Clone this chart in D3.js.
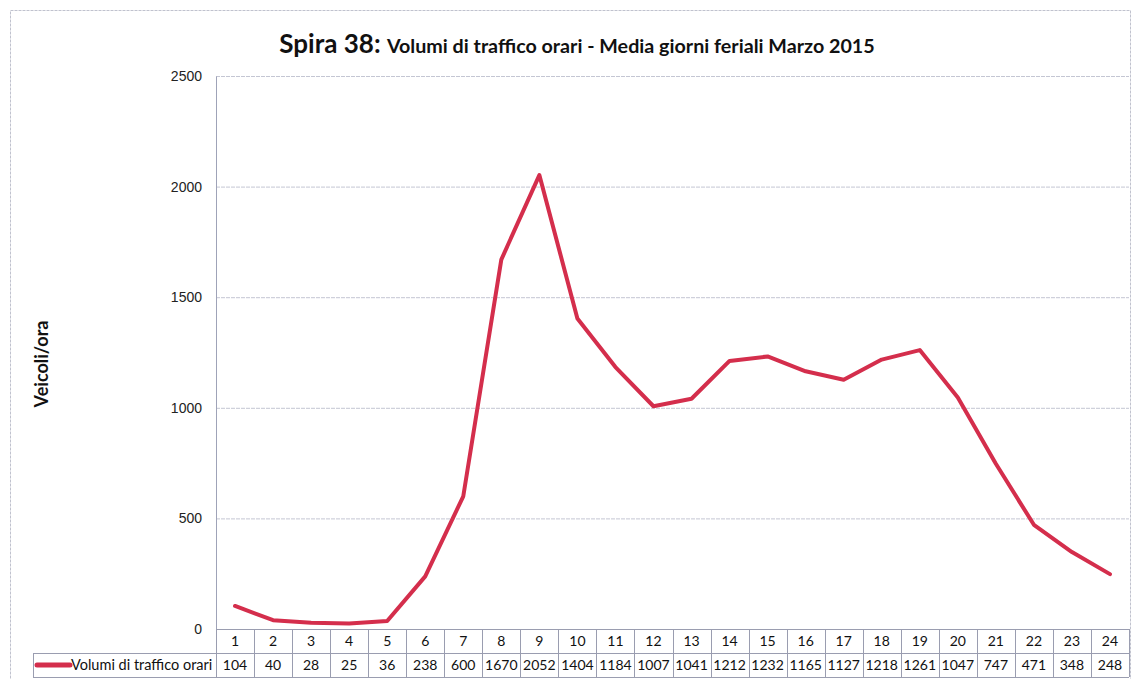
<!DOCTYPE html>
<html><head><meta charset="utf-8">
<script src="https://cdn.jsdelivr.net/npm/d3@7"></script>
<style>
html,body{margin:0;padding:0;background:#fff;}
svg{display:block;font-family:Lato,"Open Sans",sans-serif;}
</style></head>
<body><svg id="chart" width="1135" height="679"></svg>
<script>
// Hourly traffic volumes, weekday average
const hours = ["1","2","3","4","5","6","7","8","9","10","11","12","13","14","15","16","17","18","19","20","21","22","23","24"];
const volumes = [104,40,28,25,36,238,600,1670,2052,1404,1184,1007,1041,1212,1232,1165,1127,1218,1261,1047,747,471,348,248];
const yTicks = [0,500,1000,1500,2000,2500];
const seriesName = "Volumi di traffico orari";

const svg = d3.select("#chart");
const plotLeft = 216, plotRight = 1129, plotTop = 76, plotBottom = 629;
const rowH = 24;
const lineColor = "#d42e4c";
const gridColor = "#c4c6d3";

// outer frame
svg.append("rect").attr("x",10.5).attr("y",10.5).attr("width",1120).attr("height",680)
  .attr("fill","none").attr("stroke","#c0c2ce").attr("stroke-width",1).attr("stroke-dasharray","3,1");

const x = d3.scaleBand().domain(hours).range([plotLeft,plotRight]);
const y = d3.scaleLinear().domain([0,2500]).range([plotBottom,plotTop]);

// grid
svg.append("g").selectAll("line").data(yTicks.filter(d=>d>0)).join("line")
  .attr("x1",plotLeft).attr("x2",plotRight).attr("y1",d=>y(d)+0.5).attr("y2",d=>y(d)+0.5)
  .attr("stroke",gridColor).attr("stroke-width",1).attr("stroke-dasharray","4,1");

// y axis
const yAxis = svg.append("g").attr("transform",`translate(${plotLeft},0)`)
  .call(d3.axisLeft(y).tickValues(yTicks).tickFormat(d3.format("d")).tickSize(0).tickPadding(14));
yAxis.select(".domain").attr("stroke","#9fa3b8");
yAxis.selectAll("text").attr("font-size",14).attr("fill","#222");

// axis title
svg.append("text").attr("transform","translate(48,364) rotate(-90)")
  .attr("text-anchor","middle").attr("font-size",18).attr("font-weight","bold").attr("fill","#111")
  .text("Veicoli/ora");

// title
const title = svg.append("text").attr("x",577).attr("y",53).attr("text-anchor","middle").attr("fill","#111").attr("font-weight","bold");
title.append("tspan").attr("font-size",26).text("Spira 38: ");
title.append("tspan").attr("font-size",19.7).text("Volumi di traffico orari - Media giorni feriali Marzo 2015");

// data table
const tbl = svg.append("g");
const tableStroke = "#9a9db0";
const legendLeft = 33;
[[plotLeft,plotBottom],[legendLeft,plotBottom+rowH],[legendLeft,plotBottom+2*rowH]].forEach(([x0,yy])=>{
  tbl.append("line").attr("x1",x0).attr("x2",plotRight).attr("y1",yy+0.5).attr("y2",yy+0.5)
    .attr("stroke",tableStroke).attr("stroke-width",1);
});
const vx = hours.map(h=>x(h)).concat([plotRight]);
tbl.selectAll("line.v").data(vx).join("line").attr("class","v")
  .attr("x1",d=>Math.round(d)+0.5).attr("x2",d=>Math.round(d)+0.5)
  .attr("y1",plotBottom).attr("y2",plotBottom+2*rowH).attr("stroke",tableStroke);
tbl.append("line").attr("x1",legendLeft+0.5).attr("x2",legendLeft+0.5)
  .attr("y1",plotBottom+rowH).attr("y2",plotBottom+2*rowH).attr("stroke",tableStroke);

tbl.selectAll("text.h").data(hours).join("text").attr("class","h")
  .attr("x",d=>x(d)+x.bandwidth()/2).attr("y",plotBottom+17).attr("text-anchor","middle")
  .attr("font-size",14).attr("fill","#111").text(d=>d);
tbl.selectAll("text.v").data(volumes).join("text").attr("class","v")
  .attr("x",(d,i)=>x(hours[i])+x.bandwidth()/2).attr("y",plotBottom+rowH+17).attr("text-anchor","middle")
  .attr("font-size",14).attr("fill","#111").text(d=>d);

// legend key
tbl.append("line").attr("x1",37).attr("x2",70).attr("y1",plotBottom+rowH+12).attr("y2",plotBottom+rowH+12)
  .attr("stroke",lineColor).attr("stroke-width",5).attr("stroke-linecap","round");
tbl.append("text").attr("x",71).attr("y",plotBottom+rowH+17).attr("font-size",14.5).attr("fill","#111").text(seriesName);

// series line
const line = d3.line().x((d,i)=>x(hours[i])+x.bandwidth()/2).y(d=>y(d));
svg.append("path").datum(volumes).attr("d",line).attr("fill","none")
  .attr("stroke",lineColor).attr("stroke-width",4).attr("stroke-linejoin","round").attr("stroke-linecap","round");
</script></body></html>
